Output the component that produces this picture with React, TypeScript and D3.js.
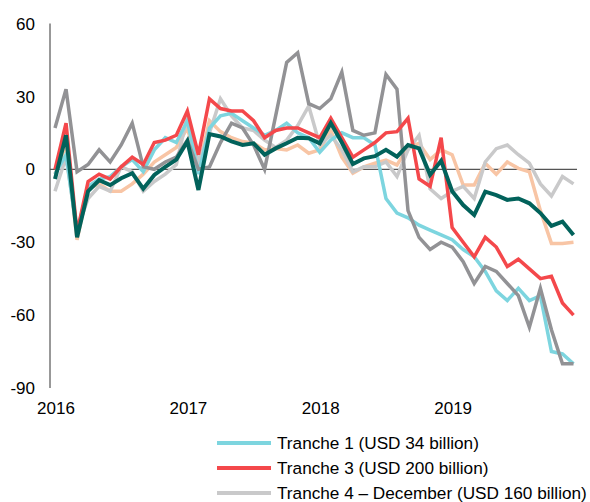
import React from "react";
import * as d3 from "d3";

const yearLabels = ["2016", "2017", "2018", "2019"];
const yTicks = [60, 30, 0, -30, -60, -90];

// Monthly values, Jan 2016 .. Dec 2019
const tranche1 = [
  -2, 6, -26, -7, -4, -3, 1, 4, -1, 8, 13, 11,
  20, -2, 17, 22, 23, 20, 17, 14, 16, 19, 15, 13,
  7, 12, 15, 13, 13, 10, -12, -18, -20, -23, -25, -27,
  -29, -33, -36, -42, -50, -54, -49, -54, -52, -75, -76, -80,
];
const tranche3 = [
  0, 19, -26, -5, -2, -4, 1, 5, 2, 11, 12, 14,
  24, 6, 29, 25, 24, 24, 20, 13, 16, 17, 17, 15,
  13, 21, 13, 5, 8, 11, 15, 15.5, 21, -4, -7, 13,
  -24, -30, -36, -28, -32, -40, -37, -41, -45, -44, -55, -60,
];
const tranche4Dec = [
  -9, 5, -25, -12, -7, -9, 1, -1, -9, -5, -2, 2,
  22, 3, 15, 29, 22, 17, 16, 12, 9, 12, 18, 26,
  10, 14, 8, -1, 1, 1, 3, -3, 8, 14, -8, -12,
  -9, -7, -12, 3, 8.5, 10, 6, 2.5, -6, -11, -3, -6,
];
const trancheDarkGray = [
  17, 33, -1, 2, 8, 3, 10, 19, 1, 0, 3, 5,
  12, 0, 1, 11, 19, 17, 10, 0, 22, 44, 48, 27,
  25, 29, 40, 16, 14, 15, 39, 33, -17, -28, -33, -30,
  -32, -38, -47, -40, -42, -47, -52, -65, -49, -66, -80, -80,
];
const tranchePeach = [
  -2, 10, -29, -8, -6, -9, -9, -6, -2, 3, 6, 9,
  17, 0, 20, 15.5, 13, 11.4, 10.7, 8, 8.6, 8, 10, 6.6,
  8, 16, 5, -1.6, 1, 2.5, 3.8, 1.8, 9, 10.7, 4, 8,
  6, -6.5, -6.5, 2.5, -2, 3, 0.4, -1, -17, -30.5, -30.5, -30,
];
const trancheGreen = [
  -4, 14, -28, -9, -4.5, -6.5, -3.7, -1.6, -8, -2.3, 1, 4,
  11.5, -8.5, 14.5, 13.5, 11.5, 10, 10.7, 6, 8.6, 10.7, 13, 12.8,
  10.7, 19, 11, 2.2, 4.5, 5.4, 8, 5.2, 10, 8.6, -2.3, 3.5,
  -9, -14.7, -18.8, -9.2, -10.6, -12.6, -12, -14, -18, -23.3, -21.5, -27,
];

const legendLabels = [
  "Tranche 1 (USD 34 billion)",
  "Tranche 3 (USD 200 billion)",
  "Tranche 4 \u2013 December (USD 160 billion)",
];

const COLORS = {
  cyan: "#7dd5df",
  red: "#f4484b",
  lightGray: "#c9c9ca",
  darkGray: "#929295",
  peach: "#f8c5a5",
  green: "#02625b",
};

export default function App() {
  const W = 590;
  const H = 502;
  const x = d3.scaleLinear().domain([0, 47]).range([55, 573.5]);
  const y = d3.scaleLinear().domain([-90, 60]).range([388, 23.5]);
  const line = d3
    .line<number>()
    .x((_, i) => x(i))
    .y((d) => y(d));

  const series = [
    { data: tranchePeach, color: COLORS.peach, w: 3.5 },
    { data: tranche4Dec, color: COLORS.lightGray, w: 3.5 },
    { data: tranche1, color: COLORS.cyan, w: 3.5 },
    { data: trancheDarkGray, color: COLORS.darkGray, w: 3.5 },
    { data: tranche3, color: COLORS.red, w: 3.5 },
    { data: trancheGreen, color: COLORS.green, w: 4 },
  ];

  const legendColors = [COLORS.cyan, COLORS.red, COLORS.lightGray];
  const font = "'Liberation Sans', Arial, sans-serif";

  return (
    <svg
      width={W}
      height={H}
      style={{ position: "absolute", left: 0, top: 0, background: "#fff" }}
      fontFamily={font}
    >
      {/* y axis line */}
      <line x1={50} x2={50} y1={y(60)} y2={y(-90)} stroke="#333" strokeWidth={1} />
      {/* zero line */}
      <line x1={50} x2={577} y1={y(0)} y2={y(0)} stroke="#555" strokeWidth={1.3} />
      {yTicks.map((t) => (
        <text
          key={t}
          x={35}
          y={y(t)}
          dy="0.36em"
          textAnchor="end"
          fontSize={17}
          fill="#000"
        >
          {t}
        </text>
      ))}
      {yearLabels.map((lab, i) => (
        <text
          key={lab}
          x={x(i * 12) + 1}
          y={414}
          textAnchor="middle"
          fontSize={17}
          fill="#000"
        >
          {lab}
        </text>
      ))}
      {series.map((s, i) => (
        <path
          key={i}
          d={line(s.data) || ""}
          fill="none"
          stroke={s.color}
          strokeWidth={s.w}
        />
      ))}
      {legendLabels.map((lab, i) => (
        <g key={lab}>
          <line
            x1={217}
            x2={271}
            y1={443 + i * 25}
            y2={443 + i * 25}
            stroke={legendColors[i]}
            strokeWidth={4}
          />
          <text x={277} y={449 + i * 25} fontSize={17.2} fill="#000">
            {lab}
          </text>
        </g>
      ))}
    </svg>
  );
}
